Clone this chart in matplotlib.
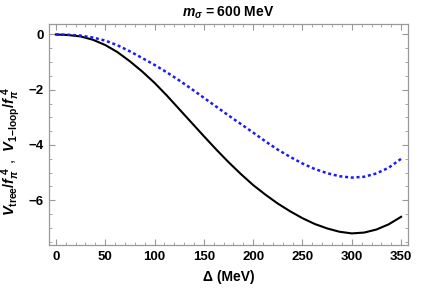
import matplotlib
matplotlib.use('Agg')
import matplotlib.pyplot as plt
from matplotlib import font_manager
from matplotlib.ticker import MultipleLocator

# keep the narrow cut out of the font lookup
font_manager.fontManager.ttflist = [f for f in font_manager.fontManager.ttflist
                                    if 'Narrow' not in f.fname]

plt.rcParams['font.family'] = ['Liberation Sans', 'DejaVu Sans']
plt.rcParams['font.weight'] = 'bold'
plt.rcParams['mathtext.fontset'] = 'custom'
plt.rcParams['mathtext.rm'] = 'Liberation Sans:bold'
plt.rcParams['mathtext.it'] = 'Liberation Sans:italic:bold'
plt.rcParams['mathtext.bf'] = 'Liberation Sans:bold'

# values
delta = [0, 12.5, 25, 37.5, 50, 62.5, 75, 87.5, 100, 112.5, 125, 137.5, 150,
         162.5, 175, 187.5, 200, 212.5, 225, 237.5, 250, 262.5, 275, 287.5,
         300, 312.5, 325, 337.5, 350]
v_tree = [0, -0.02, -0.07, -0.19, -0.38, -0.64, -0.97, -1.34, -1.75, -2.21,
          -2.70, -3.19, -3.68, -4.16, -4.62, -5.05, -5.45, -5.80, -6.12, -6.40,
          -6.65, -6.86, -7.02, -7.14, -7.20, -7.17, -7.06, -6.87, -6.60]
v_loop = [0, -0.01, -0.04, -0.11, -0.22, -0.39, -0.61, -0.85, -1.10, -1.37,
          -1.66, -1.97, -2.29, -2.61, -2.93, -3.24, -3.55, -3.87, -4.17, -4.43,
          -4.67, -4.87, -5.02, -5.13, -5.18, -5.15, -5.03, -4.82, -4.50]

fig = plt.figure(figsize=(4.34, 2.92), dpi=100)
ax = fig.add_axes([49/434, 1-245/292, (408-49)/434, (245-24)/292])

ax.plot(delta, v_tree, color='black', lw=1.5)
ax.plot(delta, v_loop, color='#1a1aff', lw=1.8, linestyle=(0, (1.2, 1.1)))

ax.set_xlim(-7, 357)
ax.set_ylim(-7.62, 0.38)
ax.xaxis.set_major_locator(MultipleLocator(50))
ax.xaxis.set_minor_locator(MultipleLocator(10))
ax.yaxis.set_major_locator(MultipleLocator(2))
ax.yaxis.set_minor_locator(MultipleLocator(0.5))

for s in ax.spines.values():
    s.set_color('#999999')
    s.set_linewidth(0.9)
ax.tick_params(which='both', direction='in', top=True, right=True,
               color='#999999', labelsize=9.5, pad=4)
ax.tick_params(which='major', length=4, width=0.8)
ax.tick_params(which='minor', length=2, width=0.6)
for lab in ax.get_xticklabels() + ax.get_yticklabels():
    lab.set_fontweight('bold')

ax.set_title(r'$m_\sigma$ = 600 MeV', fontsize=10, fontweight='bold', pad=5)
ax.set_xlabel('Δ (MeV)', fontsize=10, fontweight='bold', labelpad=5)
ax.set_ylabel(r'$V_{\mathrm{tree}}/f_\pi^{\ 4}$ ,  $V_{\mathrm{1\!-\!loop}}/f_\pi^{\ 4}$',
              fontsize=10.5)
ax.yaxis.set_label_coords(-0.076, 0.425)

fig.savefig('out.png', dpi=100)
